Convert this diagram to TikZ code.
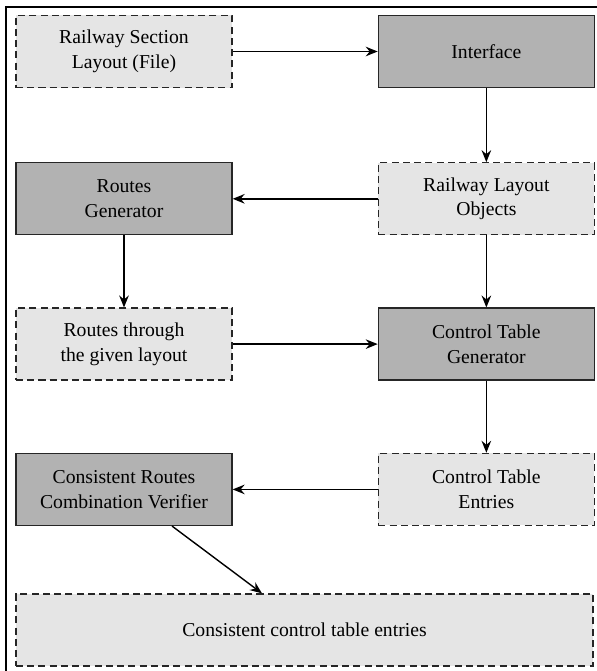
\documentclass[tikz,border=0pt]{standalone}
\usepackage{fontspec}
\setmainfont{Liberation Serif}
\usetikzlibrary{positioning, arrows.meta}

\tikzset{
  block/.style={draw=black!85, line width=0.9pt, minimum width=5.4cm, minimum height=1.8cm,
    align=center, font=\fontsize{14}{17.5}\selectfont, inner sep=2pt},
  softbox/.style={block, dash pattern=on 5pt off 3pt, fill=black!10},
  hardbox/.style={block, fill=black!30},
  flow/.style={-{Stealth[length=3mm, width=2.4mm, inset=1mm]}, line width=1pt}
}

\begin{document}
\begin{tikzpicture}[x=0.025cm, y=-0.025cm]
\useasboundingbox (0,0) rectangle (597,671);

% frame, cut by the page edge
\draw[line width=1.4pt] (6,671) -- (6,7) -- (597,7);

\node (layout) [softbox] at (124,51.5) {Railway Section\\Layout (File)};
\node (iface) [hardbox, right=3.625cm of layout] {Interface};
\node (objects) [softbox, below=1.85cm of iface] {Railway Layout\\Objects};
\node (routegen) [hardbox, left=3.625cm of objects] {Routes\\Generator};
\node (routes) [softbox, below=1.8cm of routegen] {Routes through\\the given layout};
\node (ctgen) [hardbox, right=3.625cm of routes] {Control Table\\Generator};
\node (entries) [softbox, below=1.8cm of ctgen] {Control Table\\Entries};
\node (verifier) [hardbox, left=3.625cm of entries] {Consistent Routes\\Combination Verifier};
\node (result) [softbox, minimum width=14.425cm] at (304.5,630) {Consistent control table entries};

\draw[flow] (layout) -- (iface);
\draw[flow] (iface) -- (objects);
\draw[flow] (objects) -- (routegen);
\draw[flow] (routegen) -- (routes);
\draw[flow] (routes) -- (ctgen);
\draw[flow] (objects) -- (ctgen);
\draw[flow] (ctgen) -- (entries);
\draw[flow] (entries) -- (verifier);
\draw[flow] (verifier.south) ++(1.2cm,0) coordinate (vs) (vs) -- (result.north -| 262,0);

\end{tikzpicture}
\end{document}
